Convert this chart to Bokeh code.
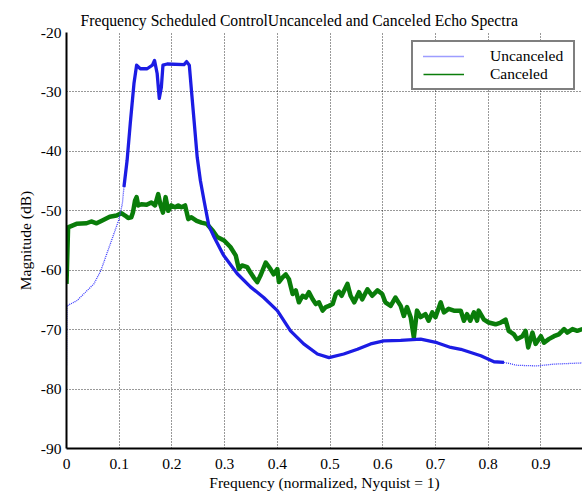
import numpy as np
from bokeh.plotting import figure
from bokeh.models import Range1d, FixedTicker, Legend, LegendItem
from bokeh.embed import file_html
from bokeh.resources import INLINE

# ---------------- data ----------------
title_text = "Frequency Scheduled ControlUncanceled and Canceled Echo Spectra"
x_label = "Frequency (normalized, Nyquist = 1)"
y_label = "Magnitude (dB)"
series_names = ["Uncanceled", "Canceled"]

x_ticks = [0, 0.1, 0.2, 0.3, 0.4, 0.5, 0.6, 0.7, 0.8, 0.9]
x_tick_labels = ["0", "0.1", "0.2", "0.3", "0.4", "0.5", "0.6", "0.7", "0.8", "0.9"]
y_ticks = [-90, -80, -70, -60, -50, -40, -30, -20]
y_tick_labels = ["-90", "-80", "-70", "-60", "-50", "-40", "-30", "-20"]

unc_x = [0.0, 0.001, 0.020, 0.052, 0.065, 0.083, 0.099, 0.106, 0.109, 0.115, 0.121, 0.128,
         0.133, 0.140, 0.153, 0.163, 0.167, 0.172, 0.176, 0.180, 0.183, 0.191, 0.223, 0.228,
         0.233, 0.237, 0.242, 0.248, 0.254, 0.261, 0.270, 0.280, 0.298, 0.324, 0.349, 0.374,
         0.400, 0.425, 0.450, 0.476, 0.498, 0.526, 0.552, 0.577, 0.602, 0.634, 0.672, 0.703,
         0.729, 0.748, 0.786, 0.811, 0.830, 0.855, 0.893, 0.925, 0.979]
unc_y = [-76.0, -66.0, -65.1, -62.3, -60.1, -55.6, -51.6, -48.8, -46.0, -41.5, -35.3, -28.6,
         -25.5, -26.1, -26.1, -25.5, -24.7, -26.9, -31.1, -29.2, -25.5, -25.3, -25.4, -24.9,
         -25.5, -29.7, -34.8, -41.0, -44.9, -48.3, -52.5, -54.4, -57.5, -60.6, -62.8, -64.6,
         -66.8, -70.2, -72.4, -74.1, -74.7, -74.1, -73.3, -72.4, -71.9, -71.8, -71.6, -72.2,
         -73.0, -73.3, -74.4, -75.4, -75.5, -76.0, -76.1, -75.8, -75.6]

can_x = [0.000, 0.003, 0.019, 0.038, 0.047, 0.057, 0.066, 0.082, 0.095, 0.104,
         0.111, 0.117, 0.123, 0.126, 0.130, 0.133, 0.136, 0.142, 0.152, 0.161,
         0.168, 0.174, 0.178, 0.183, 0.188, 0.193, 0.199, 0.206, 0.212, 0.218,
         0.225, 0.231, 0.237, 0.247, 0.256, 0.266, 0.278, 0.286, 0.299, 0.311,
         0.321, 0.327, 0.333, 0.343, 0.349, 0.355, 0.362, 0.368, 0.378, 0.387,
         0.393, 0.400, 0.403, 0.410, 0.416, 0.422, 0.429, 0.435, 0.441, 0.448,
         0.454, 0.460, 0.467, 0.473, 0.479, 0.486, 0.492, 0.498, 0.505, 0.511,
         0.517, 0.522, 0.533, 0.539, 0.546, 0.555, 0.561, 0.571, 0.580, 0.590,
         0.599, 0.605, 0.615, 0.624, 0.634, 0.640, 0.646, 0.653, 0.659, 0.665,
         0.672, 0.681, 0.687, 0.694, 0.700, 0.710, 0.716, 0.725, 0.735, 0.748,
         0.754, 0.760, 0.766, 0.773, 0.779, 0.782, 0.792, 0.801, 0.814, 0.824,
         0.833, 0.839, 0.849, 0.855, 0.865, 0.871, 0.876, 0.884, 0.890, 0.900,
         0.906, 0.915, 0.925, 0.934, 0.944, 0.950, 0.960, 0.969, 0.979]
can_y = [-62.3, -52.8, -52.2, -52.1, -51.8, -52.1, -51.7, -51.0, -50.8, -50.4,
         -50.8, -51.2, -51.1, -50.3, -48.3, -47.7, -49.1, -48.9, -49.0, -48.6,
         -49.1, -47.2, -48.9, -50.3, -47.7, -50.0, -49.1, -49.4, -49.1, -49.4,
         -49.1, -51.4, -51.1, -51.7, -52.0, -52.2, -53.4, -54.4, -55.0, -56.1,
         -57.5, -59.8, -59.2, -59.5, -60.4, -61.2, -62.0, -60.9, -58.7, -59.8,
         -60.7, -59.8, -62.0, -61.2, -60.7, -61.5, -64.0, -63.4, -65.4, -64.3,
         -64.6, -63.7, -64.9, -65.7, -65.4, -66.8, -66.2, -66.0, -65.7, -64.0,
         -63.6, -64.3, -62.3, -64.3, -65.4, -63.7, -64.9, -63.2, -64.3, -63.4,
         -64.0, -65.4, -66.0, -64.6, -66.0, -67.7, -66.2, -67.9, -71.3, -66.8,
         -67.9, -67.4, -68.5, -67.1, -67.9, -65.4, -67.1, -66.5, -66.8, -66.8,
         -68.5, -67.4, -68.5, -67.1, -68.5, -66.8, -68.3, -68.8, -69.1, -68.8,
         -68.3, -70.2, -70.8, -71.6, -71.1, -70.2, -73.0, -70.5, -72.4, -71.1,
         -72.2, -71.6, -71.1, -70.8, -69.9, -70.5, -69.9, -70.2, -69.9]

# ---------------- styling ----------------
FONT = "Liberation Serif"
BLUE_THIN = "#3a3aff"
BLUE_THICK = "#1c1ce4"
GREEN = "#0a7d0a"
THICK_FROM, THICK_TO = 0.109, 0.830

p = figure(width=582, height=495, output_backend="svg", toolbar_location=None,
           x_range=Range1d(0, 0.979), y_range=Range1d(-90, -20),
           min_border_left=66, min_border_right=0, min_border_top=32, min_border_bottom=47,
           title=title_text)
p.outline_line_color = None
p.background_fill_color = "white"
p.border_fill_color = "white"

p.title.text_font = FONT
p.title.text_font_size = "15.7px"
p.title.text_font_style = "normal"
p.title.text_color = "black"
p.title.align = "left"
p.title.offset = 14
p.title.standoff = 7

for ax in (p.xaxis[0], p.yaxis[0]):
    ax.axis_line_width = 2
    ax.axis_line_color = "black"
    ax.major_tick_in = 0
    ax.major_tick_out = 0
    ax.minor_tick_in = 0
    ax.minor_tick_out = 0
    ax.major_label_text_font = FONT
    ax.major_label_text_font_size = "15.5px"
    ax.major_label_text_color = "black"
    ax.axis_label_text_font = FONT
    ax.axis_label_text_font_size = "15.5px"
    ax.axis_label_text_font_style = "normal"
    ax.axis_label_text_color = "black"

p.xaxis.ticker = FixedTicker(ticks=x_ticks)
p.xaxis.major_label_overrides = dict(zip(x_ticks, x_tick_labels))
p.yaxis.ticker = FixedTicker(ticks=y_ticks)
p.yaxis.major_label_overrides = dict(zip(y_ticks, y_tick_labels))
p.xaxis.axis_label = x_label
p.yaxis.axis_label = y_label
p.xaxis.major_label_standoff = 10
p.xaxis.axis_label_standoff = 2
p.yaxis.major_label_standoff = 5
p.yaxis.axis_label_standoff = 4

for g in (p.xgrid[0], p.ygrid[0]):
    g.grid_line_color = "black"
    g.grid_line_alpha = 0.8
    g.grid_line_dash = "1 2"
    g.grid_line_width = 1

ux = np.array(unc_x)
uy = np.array(unc_y)
mask = (ux >= THICK_FROM) & (ux <= THICK_TO)

# Canceled: thick jagged trace plus thin line used for the legend
p.line(can_x, can_y, line_color=GREEN, line_width=4.5, line_join="round")
r_can = p.line(can_x, can_y, line_color=GREEN, line_width=1.5)

# Uncanceled: thin dotted overall, thick where the trace is dense
r_unc = p.line(unc_x, unc_y, line_color=BLUE_THIN, line_width=1.3, line_dash="1 1")
p.line(ux[mask], uy[mask], line_color=BLUE_THICK, line_width=3.3, line_join="round")

legend = Legend(items=[LegendItem(label=series_names[0], renderers=[r_unc]),
                       LegendItem(label=series_names[1], renderers=[r_can])],
                location=(345, 358))
legend.border_line_color = "black"
legend.border_line_width = 2
legend.background_fill_color = "white"
legend.background_fill_alpha = 1
legend.label_text_font = FONT
legend.label_text_font_size = "15.5px"
legend.label_text_color = "black"
legend.glyph_width = 41
legend.glyph_height = 14
legend.label_height = 14
legend.label_standoff = 26
try:
    legend.padding = (10, 5)
except Exception:
    legend.padding = 6
legend.spacing = 0
legend.margin = 0
p.add_layout(legend)

open("out.html", "w").write(file_html(p, INLINE))
